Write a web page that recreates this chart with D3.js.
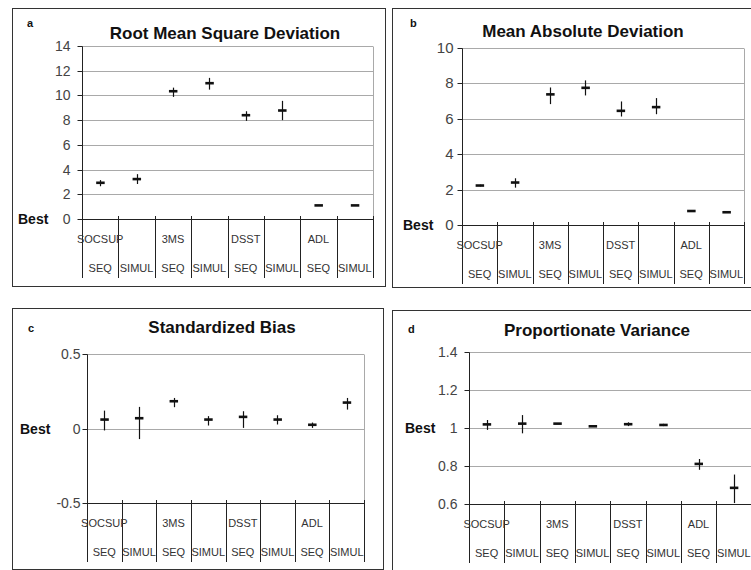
<!DOCTYPE html>
<html><head><meta charset="utf-8">
<script src="https://cdn.jsdelivr.net/npm/d3@7"></script>
<style>body{margin:0;background:#fff;} svg{display:block;font-family:Arial,"Liberation Sans",sans-serif;}</style>
</head><body><svg id="c" width="751" height="570"></svg>
<script>
// ---------- data ----------
const groups = ["SOCSUP", "3MS", "DSST", "ADL"];
const conditions = ["SEQ", "SIMUL"];

const rmsdTicks = [0, 2, 4, 6, 8, 10, 12, 14];
const rmsdMean = [2.93, 3.23, 10.34, 10.99, 8.40, 8.78, 1.10, 1.10];
const rmsdLow  = [2.65, 2.83, 9.88, 10.47, 7.94, 8.00, 1.10, 1.10];
const rmsdHigh = [3.15, 3.63, 10.63, 11.42, 8.72, 9.56, 1.10, 1.10];

const madTicks = [0, 2, 4, 6, 8, 10];
const madMean = [2.23, 2.40, 7.38, 7.75, 6.45, 6.66, 0.79, 0.72];
const madLow  = [2.18, 2.11, 6.83, 7.32, 6.13, 6.26, 0.79, 0.72];
const madHigh = [2.28, 2.64, 7.77, 8.17, 6.98, 7.17, 0.79, 0.72];

const biasTicks = [-0.5, 0, 0.5];
const biasMean = [0.060, 0.069, 0.183, 0.060, 0.078, 0.060, 0.025, 0.174];
const biasLow  = [-0.013, -0.071, 0.143, 0.020, 0.004, 0.027, 0.004, 0.127];
const biasHigh = [0.120, 0.145, 0.205, 0.083, 0.116, 0.089, 0.040, 0.205];

const pvTicks = [0.6, 0.8, 1, 1.2, 1.4];
const pvMean = [1.019, 1.023, 1.023, 1.009, 1.020, 1.016, 0.811, 0.685];
const pvLow  = [0.990, 0.972, 1.023, 1.009, 1.010, 1.010, 0.780, 0.605];
const pvHigh = [1.042, 1.068, 1.023, 1.009, 1.030, 1.022, 0.837, 0.755];

const titles = ["Root Mean Square Deviation", "Mean Absolute Deviation", "Standardized Bias", "Proportionate Variance"];
const letters = ["a", "b", "c", "d"];
const bestLabel = "Best";

// ---------- drawing ----------
const svg = d3.select("#c");
const cats = groups.flatMap(g => conditions.map(c => g + "|" + c));

function panel(o) {
  const g = svg.append("g");
  g.append("rect").attr("x", o.bx + 0.5).attr("y", o.by + 0.5)
    .attr("width", o.bw).attr("height", o.bh)
    .attr("fill", "none").attr("stroke", "#333").attr("stroke-width", 1);

  const x = d3.scaleBand().domain(cats).range([o.x0, o.x1]);
  const y = d3.scaleLinear().domain([o.ticks[0], o.ticks[o.ticks.length - 1]]).range([o.yb, o.yt]);
  const py = v => Math.round(y(v)) + 0.5;

  // gridlines (excluding bottom axis)
  g.selectAll("line.grid").data(o.ticks.slice(1)).join("line").attr("class", "grid")
    .attr("x1", o.x0).attr("x2", o.x1).attr("y1", py).attr("y2", py)
    .attr("stroke", "#a9a9a9").attr("stroke-width", 1);
  // right border of plot area
  g.append("line").attr("x1", Math.round(o.x1) + 0.5).attr("x2", Math.round(o.x1) + 0.5)
    .attr("y1", py(o.ticks[o.ticks.length - 1])).attr("y2", o.yb)
    .attr("stroke", "#a9a9a9");

  // y axis
  const ya = d3.axisLeft(y).tickValues(o.ticks).tickSize(5).tickPadding(o.pad)
    .tickFormat(d => String(d));
  const ag = g.append("g").attr("transform", `translate(${Math.round(o.x0) + 0.5},0)`).call(ya);
  ag.select(".domain").remove();
  ag.selectAll(".tick line").attr("stroke", "#222");
  ag.selectAll(".tick text").attr("font-size", o.tickFont).attr("fill", "#444")
    .attr("font-family", "Arial, 'Liberation Sans', sans-serif");
  ag.selectAll(".tick").attr("transform", d => `translate(0,${py(d)})`);

  // vertical axis line
  g.append("line").attr("x1", Math.round(o.x0) + 0.5).attr("x2", Math.round(o.x0) + 0.5)
    .attr("y1", py(o.ticks[o.ticks.length - 1])).attr("y2", o.yb + 59)
    .attr("stroke", "#222");
  // horizontal axis line
  g.append("line").attr("x1", o.x0).attr("x2", o.x1).attr("y1", py(o.ticks[0])).attr("y2", py(o.ticks[0]))
    .attr("stroke", "#222");

  // category dividers
  const bounds = cats.slice(1).map(c => x(c)).concat([o.x1]);
  g.selectAll("line.div").data(bounds).join("line").attr("class", "div")
    .attr("x1", d => Math.round(d) + 0.5).attr("x2", d => Math.round(d) + 0.5)
    .attr("y1", o.yb - 3).attr("y2", o.yb + 59).attr("stroke", "#222");

  // category labels
  g.selectAll("text.grp").data(groups).join("text").attr("class", "grp")
    .attr("x", d => x(d + "|" + conditions[0]) + x.bandwidth() / 2)
    .attr("y", o.yb + 24).attr("text-anchor", "middle")
    .attr("font-size", 11).attr("fill", "#333").text(d => d);
  g.selectAll("text.cond").data(cats).join("text").attr("class", "cond")
    .attr("x", d => x(d) + x.bandwidth() / 2)
    .attr("y", o.yb + 53).attr("text-anchor", "middle")
    .attr("font-size", 11).attr("fill", "#333").text(d => d.split("|")[1]);

  // markers
  const pts = cats.map((c, i) => ({c, m: o.mean[i], lo: o.low[i], hi: o.high[i]}));
  g.selectAll("line.wh").data(pts.filter(d => d.hi > d.lo)).join("line").attr("class", "wh")
    .attr("x1", d => Math.round(x(d.c) + x.bandwidth() / 2) + 0.5)
    .attr("x2", d => Math.round(x(d.c) + x.bandwidth() / 2) + 0.5)
    .attr("y1", d => y(d.hi)).attr("y2", d => y(d.lo))
    .attr("stroke", "#111").attr("stroke-width", 1.2);
  g.selectAll("line.mk").data(pts).join("line").attr("class", "mk")
    .attr("x1", d => x(d.c) + x.bandwidth() / 2 - 4)
    .attr("x2", d => x(d.c) + x.bandwidth() / 2 + 4.5)
    .attr("y1", d => y(d.m)).attr("y2", d => y(d.m))
    .attr("stroke", "#111").attr("stroke-width", 2.6);

  // labels
  g.append("text").attr("x", o.titleX).attr("y", o.titleY).attr("text-anchor", "middle")
    .attr("font-size", 17).attr("font-weight", "bold").attr("fill", "#111").text(o.title);
  g.append("text").attr("x", o.letterX).attr("y", o.letterY)
    .attr("font-size", 11).attr("font-weight", "bold").attr("fill", "#111").text(o.letter);
  g.append("text").attr("x", o.bestX).attr("y", y(o.best) + 5)
    .attr("font-size", 14).attr("font-weight", "bold").attr("fill", "#111").text(bestLabel);
}

panel({bx: 12, by: 8, bw: 373, bh: 278, x0: 82, x1: 373, yb: 219, yt: 46,
  ticks: rmsdTicks, mean: rmsdMean, low: rmsdLow, high: rmsdHigh, pad: 7, tickFont: 14,
  title: titles[0], titleX: 225, titleY: 39, letter: letters[0], letterX: 27, letterY: 27,
  best: 0, bestX: 18});
panel({bx: 392, by: 8, bw: 380, bh: 279, x0: 462, x1: 744, yb: 225, yt: 48,
  ticks: madTicks, mean: madMean, low: madLow, high: madHigh, pad: 4, tickFont: 15,
  title: titles[1], titleX: 583, titleY: 37, letter: letters[1], letterX: 410, letterY: 27,
  best: 0, bestX: 403});
panel({bx: 12, by: 308, bw: 371, bh: 261, x0: 87, x1: 364, yb: 503, yt: 354,
  ticks: biasTicks, mean: biasMean, low: biasLow, high: biasHigh, pad: 2, tickFont: 14,
  title: titles[2], titleX: 222, titleY: 333, letter: letters[2], letterX: 28, letterY: 332,
  best: 0, bestX: 20});
panel({bx: 392, by: 310, bw: 380, bh: 260, x0: 469, x1: 751.5, yb: 504, yt: 352,
  ticks: pvTicks, mean: pvMean, low: pvLow, high: pvHigh, pad: 7, tickFont: 14,
  title: titles[3], titleX: 597, titleY: 336, letter: letters[3], letterX: 408, letterY: 333,
  best: 1, bestX: 405});
</script></body></html>
